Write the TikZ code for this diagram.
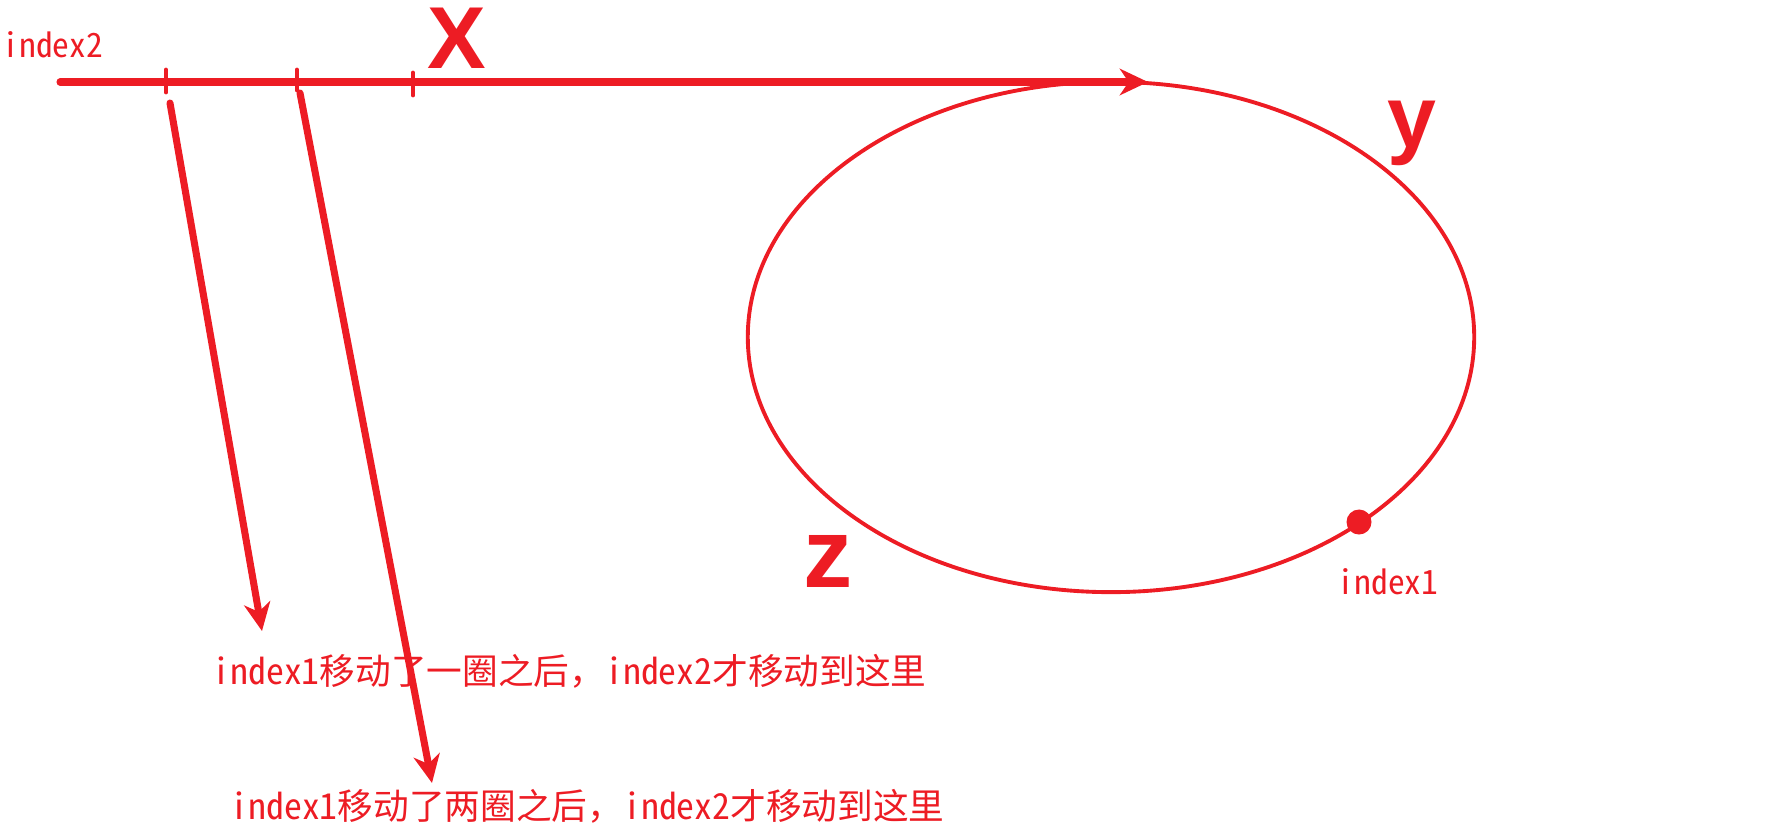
\documentclass[tikz,border=0pt]{standalone}
\usepackage{fontspec}
\newfontfamily\cjk{Noto Sans CJK SC}[RawFeature=+hwid]
\newfontfamily\cjkwide{Noto Sans CJK SC}
\newfontfamily\letterfont{Liberation Sans}
\usetikzlibrary{arrows.meta,shapes.geometric}
\definecolor{paintred}{RGB}{237,28,36}
\newcommand{\widecomma}{{\cjkwide ，}}

\begin{document}
\begin{tikzpicture}[x=0.01cm, y=-0.01cm, every node/.style={text=paintred, inner sep=0pt},
	redline/.style={draw=paintred, line width=2pt, line cap=round},
	mover/.style={redline, -{Stealth[length=8pt,width=7.5pt,inset=2.5pt]}},
	notchmark/.style={draw=paintred, line width=1.4pt, line cap=round},
	note/.style={anchor=west, font=\cjk\fontsize{10.15pt}{12pt}\selectfont},
	tag/.style={font=\cjk\fontsize{9.5pt}{11pt}\selectfont},
	letter/.style={font=\letterfont\bfseries\fontsize{25pt}{25pt}\selectfont}
	]

\useasboundingbox (0,0) rectangle (1769,824);

% the ring
\node[ellipse, draw=paintred, line width=1.1pt, minimum width=7.26cm, minimum height=5.1cm] (ring) at (1111,337) {};
\node[circle, fill=paintred, minimum size=0.25cm] (idxone) at (1359,522) {};
\node[tag] (idxonelabel) at (1388,582) {index1};

% the line into the ring
\node[tag, anchor=west] (idxtwo) at (2,45) {index2};
\coordinate (linestart) at (60,82);
\coordinate (linetip) at (1148,82);
\draw[mover] (linestart) -- (linetip);

\coordinate (marka) at (166,82);
\coordinate (markb) at (297,82);
\coordinate (markc) at (413,84);
\draw[notchmark] ([yshift=0.12cm]marka) -- ([yshift=-0.1cm]marka);
\draw[notchmark] ([yshift=0.12cm]markb) -- ([yshift=-0.08cm]markb);
\draw[notchmark] ([yshift=0.11cm]markc) -- ([yshift=-0.11cm]markc);

\node[letter] (xlabel) at (457,38) {X};
\node[letter] (ylabel) at (1412,133) {y};
\node[letter, font=\letterfont\bfseries\fontsize{28pt}{28pt}\selectfont] (zlabel) at (828,561) {z};

% where index2 gets to
\node[note] (onelap) at (212,671) {index1移动了一圈之后\widecomma index2才移动到这里};
\node[note] (twolaps) at (230,806) {index1移动了两圈之后\widecomma index2才移动到这里};
\coordinate (froma) at (170,103);
\coordinate (toa) at (262,631);
\coordinate (fromb) at (300,93);
\coordinate (tob) at (432,783);
\draw[mover] (froma) -- (toa);
\draw[mover] (fromb) -- (tob);

\end{tikzpicture}
\end{document}
